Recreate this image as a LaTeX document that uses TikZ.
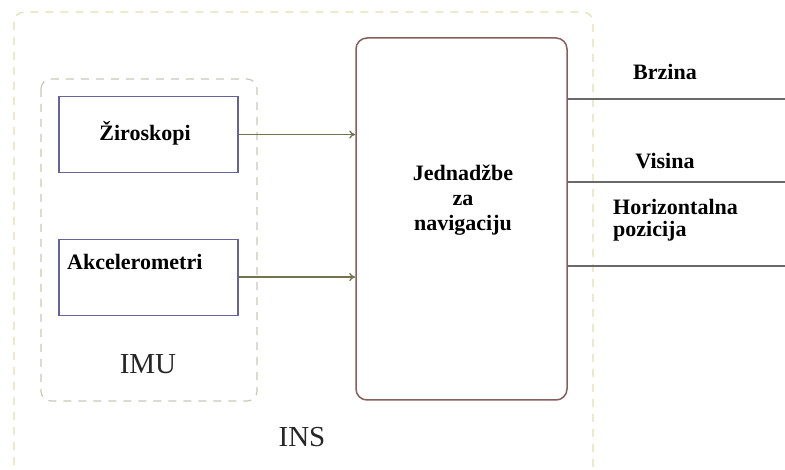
\documentclass[tikz,border=0pt]{standalone}
\usepackage{fontspec}
\setmainfont{Liberation Serif}
\usetikzlibrary{arrows.meta}
\definecolor{dashc}{RGB}{225,225,175}
\definecolor{dashi}{RGB}{200,200,185}
\definecolor{boxc}{RGB}{100,100,155}
\definecolor{mainc}{RGB}{135,95,90}
\definecolor{arrc}{RGB}{115,115,80}
\definecolor{outc}{RGB}{105,105,105}
\tikzset{
  grp/.style={draw=dashc, dash pattern=on 8pt off 7pt, line width=1.2pt, rounded corners=10pt},
  sensor/.style={draw=boxc, line width=1.6pt, minimum width=179pt, minimum height=76pt, inner sep=0pt},
  mainbox/.style={draw=mainc, line width=1.5pt, rounded corners=11pt, minimum width=211pt, minimum height=362pt, inner sep=0pt},
  lbl/.style={font=\fontsize{22}{25}\selectfont\bfseries, inner sep=0pt},
  big/.style={font=\fontsize{29}{31}\selectfont, text=black!85, inner sep=0pt},
  arr/.style={draw=arrc, line width=1.3pt, -{To[length=6pt,width=8pt]}},
  outl/.style={draw=outc, line width=1.3pt}
}
\begin{document}
\begin{tikzpicture}[x=1pt,y=-1pt]
\useasboundingbox (0,0) rectangle (785,470);
% outer INS group
\draw[grp] (14,480) -- (14,12) -- (593,12) -- (593,480);
\node[big] (ins) at (302,437) {INS};
% IMU group
\draw[grp, draw=dashi] (41,79) rectangle (257,401);
\node[big] (imu) at (148,364) {IMU};
% sensors
\node[sensor] (zir) at (148.5,134.5) {};
\node[lbl] at (145,133) {Žiroskopi};
\node[sensor] (akc) at (148.5,277.5) {};
\node[lbl, anchor=west] at (67,262) {Akcelerometri};
% main box
\node[mainbox] (main) at (461.5,219) {};
\node[lbl, align=center] (mtext) at (463,200) {Jednadžbe\\za\\navigaciju};
% arrows
\draw[arr] (zir.east) -- (main.west |- zir.east);
\draw[arr] (zir.east |- 0,277) -- (main.west |- 0,277);
% outputs
\coordinate (o1) at (785,99);
\coordinate (o2) at (785,182);
\coordinate (o3) at (785,266);
\draw[outl] (main.east |- o1) -- (o1);
\draw[outl] (main.east |- o2) -- (o2);
\draw[outl] (main.east |- o3) -- (o3);
\node[lbl] (br) at (665,72) {Brzina};
\node[lbl] (vi) at (665,161) {Visina};
\node[lbl, anchor=west] (ho) at (613,207) {Horizontalna};
\node[lbl, anchor=west] (po) at (613,231) {pozicija};
\end{tikzpicture}
\end{document}
